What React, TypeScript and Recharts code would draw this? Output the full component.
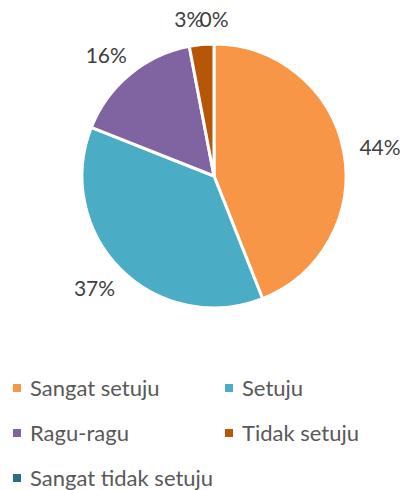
import { PieChart, Pie, Cell, Legend } from 'recharts';

const CATEGORIES = ['Sangat setuju', 'Setuju', 'Ragu-ragu', 'Tidak setuju', 'Sangat tidak setuju'];
const PERCENTS = [44, 37, 16, 3, 0];
const COLORS = ['#F79646', '#4BACC6', '#8064A2', '#B65708', '#2C6D80'];

const FONT = 'Lato, "Open Sans", sans-serif';

const data = CATEGORIES.map((name, i) => ({ name, value: PERCENTS[i] }));

const RADIAN = Math.PI / 180;

interface LabelProps {
  cx: number;
  cy: number;
  midAngle: number;
  outerRadius: number;
  value: number;
  index: number;
}

// outside label, box pushed away from the pie like Excel does
const renderLabel = ({ cx, cy, midAngle, outerRadius, value, index }: LabelProps) => {
  const text = `${value}%`;
  const w = text.length * 14;
  const h = 20;
  const cos = Math.cos(-midAngle * RADIAN);
  const sin = Math.sin(-midAngle * RADIAN);
  const r = outerRadius + 16;
  // Excel pushes the tiny 3% label left so it doesn't sit fully on the 0% one
  const nudge = index === 3 ? -10 : 0;
  const x = cx + r * cos + (w / 2) * cos + nudge;
  const y = cy + r * sin + (h / 2) * sin;
  return (
    <text
      x={x}
      y={y}
      fill="#404040"
      fontSize={21}
      fontFamily={FONT}
      textAnchor="middle"
      dominantBaseline="central"
    >
      {text}
    </text>
  );
};

const CustomLegend = () => (
  <div style={{ display: 'grid', gridTemplateColumns: '212px 193px' }}>
    {CATEGORIES.map((name, i) => (
      <div key={name} style={{ display: 'flex', alignItems: 'center', height: 45, whiteSpace: 'nowrap' }}>
        <div style={{ width: 8, height: 8, flexShrink: 0, backgroundColor: COLORS[i], marginLeft: 13, marginRight: 9 }} />
        <span style={{ color: '#595959', fontSize: 22, fontFamily: FONT }}>{name}</span>
      </div>
    ))}
  </div>
);

export default function App() {
  return (
    <div style={{ position: 'absolute', left: 0, top: 0, width: 405, height: 490, background: '#fff' }}>
      <PieChart width={405} height={490} margin={{ top: 0, right: 0, bottom: 0, left: 0 }}>
        <Pie
          data={data}
          dataKey="value"
          nameKey="name"
          cx={214}
          cy={176}
          outerRadius={132}
          startAngle={90}
          endAngle={-270}
          stroke="#ffffff"
          strokeWidth={3}
          labelLine={false}
          label={renderLabel}
          isAnimationActive={false}
        >
          {data.map((entry, index) => (
            <Cell key={`cell-${index}`} fill={COLORS[index]} />
          ))}
        </Pie>
        <Legend
          content={<CustomLegend />}
          wrapperStyle={{ position: 'absolute', left: 0, top: 365, width: 405 }}
        />
      </PieChart>
    </div>
  );
}
